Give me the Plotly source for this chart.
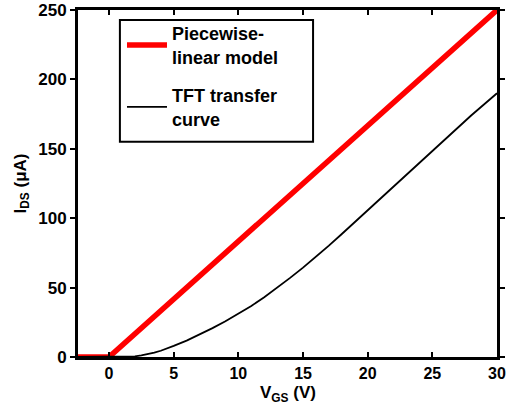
import plotly.graph_objects as go

# Piecewise-linear model
pw_x = [-2.4, 0, 30]
pw_y = [0, 0, 250]

# TFT transfer curve
tft_x = [-2.4, 0, 1, 1.5, 2, 2.5, 3, 3.5, 4, 4.5, 5, 6, 7, 8, 9, 10, 11, 12, 13, 14, 15, 16, 17, 18, 19, 20, 22, 24, 26, 28, 30]
tft_y = [0, 0, 0, 0.1, 0.5, 1.1, 2, 3.1, 4.5, 6.1, 8, 11.8, 16.1, 20.8, 25.8, 31, 36.8, 43, 49.8, 57, 64.4, 72, 80.2, 88.6, 97.2, 106, 123, 140, 157, 174, 190]

x_ticks = [0, 5, 10, 15, 20, 25, 30]
y_ticks = [0, 50, 100, 150, 200, 250]

font_family = "Arial"

fig = go.Figure()
fig.add_trace(go.Scatter(x=pw_x, y=pw_y, mode="lines",
                         line=dict(color="#ff0000", width=5.5),
                         legendgroup="a",
                         name="<b>Piecewise-<br>linear model</b>"))
fig.add_trace(go.Scatter(x=tft_x, y=tft_y, mode="lines",
                         line=dict(color="black", width=1.8),
                         legendgroup="b",
                         name="<b>TFT transfer<br>curve</b>"))

fig.add_shape(type="rect", xref="paper", yref="paper",
              x0=0.1, x1=0.561, y0=0.62, y1=0.971,
              line=dict(color="black", width=2), fillcolor="white", layer="below")

fig.add_annotation(text="<b>V<sub>GS</sub> (V)</b>", xref="paper", yref="paper",
                   x=0.5, y=-0.108, xanchor="center", yanchor="middle", showarrow=False,
                   font=dict(size=17, family=font_family, weight="bold"))

fig.update_layout(
    width=518, height=404,
    margin=dict(l=78, r=21, t=10, b=47, autoexpand=False),
    paper_bgcolor="white", plot_bgcolor="white",
    font=dict(family=font_family, size=17, color="black"),
    showlegend=True,
    legend=dict(x=0.105, y=0.985, xanchor="left", yanchor="top",
                borderwidth=0, bgcolor="rgba(0,0,0,0)",
                font=dict(size=18, family=font_family, weight="bold"),
                traceorder="grouped", tracegroupgap=12, itemwidth=40),
    xaxis=dict(range=[-2.4, 30], tickvals=x_ticks,
               ticktext=["<b>%d</b>" % v for v in x_ticks],
               ticks="inside", ticklen=5, tickwidth=2, automargin=False,
               tickcolor="black", showline=True, linecolor="black", linewidth=3, mirror="ticks",
               showgrid=False, zeroline=False,
               tickfont=dict(size=16, family=font_family, weight="bold")),
    yaxis=dict(range=[0, 250], tickvals=y_ticks,
               ticktext=["<b>%d</b>" % v for v in y_ticks],
               ticks="outside", ticklen=5, tickwidth=2, automargin=False,
               tickcolor="black", showline=True, linecolor="black", linewidth=3, mirror="ticks",
               showgrid=False, zeroline=False,
               tickfont=dict(size=17, family=font_family, weight="bold"),
               title=dict(text="<b>I<sub>DS</sub> (μA)</b>", standoff=8,
                          font=dict(size=17, weight="bold"))),
)

fig.write_html("out.html")
